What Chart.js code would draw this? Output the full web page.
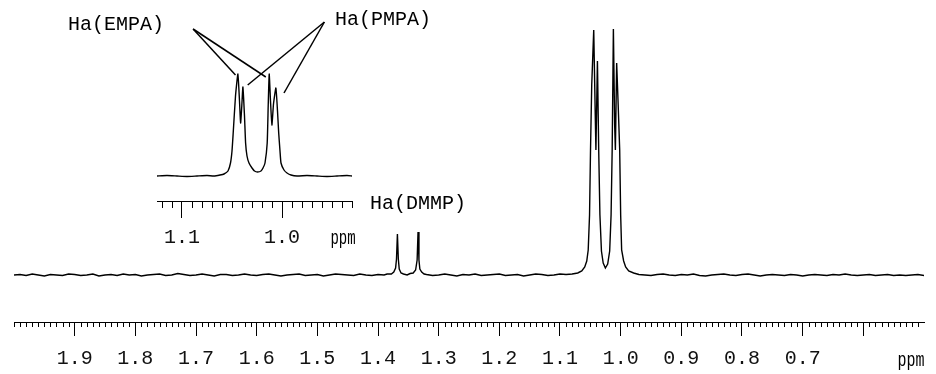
<!DOCTYPE html>
<html>
<head>
<meta charset="utf-8">
<script src="https://cdn.jsdelivr.net/npm/chart.js@4"></script>
<style>
  html, body { margin: 0; padding: 0; background: #fff; }
  #wrap { position: relative; width: 936px; height: 374px; }
  #main, #inset { position: absolute; left: 0; top: 0; }
</style>
</head>
<body>
<div id="wrap">
  <canvas id="main" width="936" height="374" style="width:936px;height:374px"></canvas>
  <canvas id="inset" width="480" height="260" style="width:480px;height:260px"></canvas>
</div>
<script>
// main spectrum: [chemical shift (ppm), intensity]
const mainTrace = [
  [2.00, 0], [1.99, 0.5], [1.98, -0.5], [1.97, 1], [1.96, 0], [1.95, -1], [1.94, 0.5], [1.93, 0],
  [1.92, -0.5], [1.91, 1], [1.90, 0.5], [1.89, -0.5], [1.88, 0], [1.87, 1], [1.86, -1], [1.85, 0],
  [1.84, 0.5], [1.83, -0.5], [1.82, 1], [1.81, 0], [1.80, 0.5], [1.79, -1], [1.78, 0], [1.77, 0.5],
  [1.76, 1], [1.75, -0.5], [1.74, 0], [1.73, 1.5], [1.72, 0.5], [1.71, -0.5], [1.70, 0], [1.69, 1],
  [1.68, 0], [1.67, -1], [1.66, 0.5], [1.65, 0.5], [1.64, -0.5], [1.63, 0], [1.62, 1], [1.61, 0],
  [1.60, -0.5], [1.59, 0.5], [1.58, 1], [1.57, 0], [1.56, -1], [1.55, 0], [1.54, 0.5], [1.53, 1],
  [1.52, -0.5], [1.51, 0], [1.50, 0.5], [1.49, -1], [1.48, 0], [1.47, 1], [1.46, 0.5], [1.45, 0],
  [1.44, -0.5], [1.43, 1], [1.42, 0], [1.41, -0.5], [1.40, 0.5], [1.39, 0], [1.385, 1],
  // Ha(DMMP) doublet
  [1.378, 1], [1.374, 3], [1.371, 7], [1.3695, 16], [1.368, 41], [1.3665, 16], [1.365, 6],
  [1.362, 2], [1.358, 1], [1.352, 0], [1.347, 1.5], [1.342, 2], [1.338, 5], [1.3355, 15],
  [1.334, 43], [1.3325, 15], [1.331, 6], [1.328, 3], [1.324, 1], [1.32, 0.5],
  [1.31, -0.5], [1.30, 0], [1.29, 1], [1.28, 0], [1.27, -1], [1.26, 0.5], [1.25, 0], [1.24, 1],
  [1.23, -0.5], [1.22, 0], [1.21, 0.5], [1.20, 1], [1.19, -0.5], [1.18, 0], [1.17, 0.5], [1.16, -1],
  [1.15, 0], [1.14, 1], [1.13, 0.5], [1.12, -0.5], [1.11, 0], [1.10, 1], [1.09, 0.5], [1.08, 1],
  // Ha(EMPA) + Ha(PMPA) doublets
  [1.0707, 2], [1.0641, 4], [1.0592, 8], [1.0559, 14], [1.0535, 25], [1.0513, 60], [1.0497, 125],
  [1.0477, 190], [1.0444, 245], [1.0419, 160], [1.0408, 125], [1.0383, 214], [1.0362, 125],
  [1.0342, 60], [1.0317, 24], [1.0288, 12], [1.0252, 7], [1.0214, 11], [1.0181, 24], [1.0158, 60],
  [1.0140, 125], [1.0120, 246], [1.0099, 150], [1.0087, 125], [1.0066, 212], [1.0041, 170],
  [1.0016, 125], [1.0000, 60], [0.9984, 25], [0.9951, 14], [0.9918, 8], [0.9868, 4], [0.9786, 2],
  [0.97, 0.5], [0.96, 0], [0.95, -0.5], [0.94, 0.5], [0.93, 1], [0.92, 0], [0.91, -0.5], [0.90, 0.5],
  [0.89, 0], [0.88, 1], [0.87, -0.5], [0.86, -1], [0.85, 0], [0.84, 0.5], [0.83, 1], [0.82, 0],
  [0.81, -0.5], [0.80, 0.5], [0.79, 1], [0.78, 0], [0.77, -1], [0.76, 0], [0.75, 0.5], [0.74, 0],
  [0.73, -0.5], [0.72, 0.5], [0.71, 0], [0.70, -1], [0.69, 0], [0.68, 0.5], [0.67, 0], [0.66, -0.5],
  [0.65, 0.5], [0.64, 0], [0.63, 1], [0.62, 0], [0.61, -0.5], [0.60, 0], [0.59, 0.5], [0.58, -0.5],
  [0.57, 0], [0.56, 0.5], [0.55, -0.5], [0.54, 0], [0.53, -0.5], [0.52, 0], [0.51, 0.5], [0.50, -0.5]
];

// expanded region 1.125 - 0.93 ppm
const insetTrace = [
  [1.125, 0], [1.115, 0.5], [1.105, 0], [1.095, -0.5], [1.085, 0], [1.075, 0.5], [1.068, 0],
  [1.062, 1], [1.058, 2], [1.054, 5], [1.0515, 13], [1.050, 25], [1.0488, 43], [1.0465, 80],
  [1.0441, 102], [1.0425, 75], [1.0414, 53], [1.0402, 70], [1.0391, 89], [1.0375, 60],
  [1.0364, 33], [1.035, 20], [1.033, 13], [1.030, 8], [1.0275, 5], [1.0245, 4], [1.021, 5],
  [1.019, 8], [1.017, 13], [1.0148, 33], [1.0138, 70], [1.0128, 102], [1.0115, 75], [1.0101, 51],
  [1.0085, 72], [1.0061, 88], [1.0045, 65], [1.0033, 43], [1.002, 25], [1.001, 13], [0.998, 6],
  [0.995, 3], [0.991, 1], [0.985, 0], [0.975, 0.5], [0.965, 0], [0.955, -0.5], [0.945, 0],
  [0.935, 0.5], [0.93, 0]
];

const mainTickLabels = ['1.9', '1.8', '1.7', '1.6', '1.5', '1.4', '1.3', '1.2', '1.1', '1.0', '0.9', '0.8', '0.7'];
const insetTickLabels = ['1.1', '1.0'];

// pointer lines from the inset labels to the peaks, in inset data units
const insetPointers = [
  { from: [1.0889, 147], to: [1.0465, 101] },
  { from: [1.0889, 147], to: [1.0162, 99] },
  { from: [0.9576, 154], to: [1.0343, 91] },
  { from: [0.9576, 154], to: [0.9980, 83] }
];

const FONT = '20px "Liberation Mono", "DejaVu Sans Mono", monospace';
Chart.defaults.font.family = '"Liberation Mono", "DejaVu Sans Mono", monospace';

// short ticks every 0.01 ppm, drawn through the x scale
const minorTicks = {
  id: 'minorTicks',
  afterDraw(chart, args, opts) {
    const { ctx, chartArea } = chart;
    const x = chart.scales.x;
    const lo = Math.ceil(x.min * 100 - 1e-6);
    const hi = Math.floor(x.max * 100 + 1e-6);
    ctx.save();
    ctx.strokeStyle = '#000';
    ctx.lineWidth = 1;
    ctx.beginPath();
    for (let i = lo; i <= hi; i++) {
      if (i % 10 === 0 && !(opts.edge && i === hi)) continue;
      const px = Math.round(x.getPixelForValue(i / 100)) + 0.5;
      ctx.moveTo(px, chartArea.bottom);
      ctx.lineTo(px, chartArea.bottom + opts.len);
    }
    ctx.stroke();
    ctx.restore();
  }
};

// free text and pointer lines
const notes = {
  id: 'notes',
  afterDraw(chart, args, opts) {
    const { ctx } = chart;
    const { x, y } = chart.scales;
    ctx.save();
    ctx.fillStyle = '#000';
    ctx.font = FONT;
    ctx.textBaseline = 'middle';
    (opts.texts || []).forEach(t => {
      ctx.save();
      ctx.translate(t.px, t.py);
      ctx.scale(t.sx || 1, 1);
      ctx.textAlign = t.align || 'left';
      ctx.fillText(t.text, 0, 0);
      ctx.restore();
    });
    ctx.strokeStyle = '#000';
    ctx.lineWidth = 1.5;
    (opts.pointers || []).forEach(p => {
      ctx.beginPath();
      ctx.moveTo(x.getPixelForValue(p.from[0]), y.getPixelForValue(p.from[1]));
      ctx.lineTo(x.getPixelForValue(p.to[0]), y.getPixelForValue(p.to[1]));
      ctx.stroke();
    });
    ctx.restore();
  }
};

const tickLabel = (list) => (v) => {
  const s = Number(v).toFixed(1);
  return list.includes(s) ? s : '';
};

new Chart(document.getElementById('main'), {
  type: 'line',
  data: {
    datasets: [{
      data: mainTrace.map(([x, y]) => ({ x, y })),
      borderColor: '#000',
      borderWidth: 1.4,
      pointRadius: 0,
      tension: 0,
      fill: false
    }]
  },
  options: {
    responsive: false,
    animation: false,
    events: [],
    layout: { padding: { left: 14, right: 12, top: 0, bottom: 0 } },
    plugins: {
      legend: { display: false },
      tooltip: { enabled: false },
      minorTicks: { len: 5, edge: true },
      notes: {
        texts: [
          { text: 'Ha(DMMP)', px: 370, py: 204 },
          { text: 'ppm', px: 911, py: 361, align: 'center', sx: 0.75 }
        ]
      }
    },
    scales: {
      x: {
        type: 'linear',
        min: 0.5,
        max: 2.0,
        reverse: true,
        border: { display: true, color: '#000', width: 1 },
        grid: {
          drawOnChartArea: false,
          drawTicks: true,
          tickLength: 14,
          lineWidth: 1,
          color: (c) => (c.tick && c.tick.value > 0.55 && c.tick.value < 1.95) ? '#000' : 'rgba(0,0,0,0)'
        },
        ticks: {
          stepSize: 0.1,
          includeBounds: false,
          autoSkip: false,
          maxRotation: 0,
          padding: 11,
          color: '#111',
          font: { size: 20 },
          callback: tickLabel(mainTickLabels)
        },
        afterFit: (s) => { s.height = 52; }
      },
      y: { display: false, min: -47, max: 275 }
    }
  },
  plugins: [minorTicks, notes]
});

new Chart(document.getElementById('inset'), {
  type: 'line',
  data: {
    datasets: [{
      data: insetTrace.map(([x, y]) => ({ x, y })),
      borderColor: '#000',
      borderWidth: 1.4,
      pointRadius: 0,
      tension: 0.15,
      fill: false
    }]
  },
  options: {
    responsive: false,
    animation: false,
    events: [],
    layout: { padding: { left: 157, right: 128, top: 20, bottom: 0 } },
    plugins: {
      legend: { display: false },
      tooltip: { enabled: false },
      minorTicks: { len: 7, edge: false },
      notes: {
        texts: [
          { text: 'Ha(EMPA)', px: 68, py: 25 },
          { text: 'Ha(PMPA)', px: 335, py: 20 },
          { text: 'ppm', px: 343, py: 239, align: 'center', sx: 0.7 }
        ],
        pointers: insetPointers
      }
    },
    scales: {
      x: {
        type: 'linear',
        min: 0.93,
        max: 1.125,
        reverse: true,
        border: { display: true, color: '#000', width: 1 },
        grid: {
          drawOnChartArea: false,
          drawTicks: true,
          tickLength: 17,
          lineWidth: 1,
          color: '#000'
        },
        ticks: {
          stepSize: 0.1,
          includeBounds: false,
          autoSkip: false,
          maxRotation: 0,
          padding: 8,
          color: '#111',
          font: { size: 20 },
          callback: tickLabel(insetTickLabels)
        },
        afterFit: (s) => { s.height = 59; }
      },
      y: { display: false, min: -25, max: 156 }
    }
  },
  plugins: [minorTicks, notes]
});
</script>
</body>
</html>
